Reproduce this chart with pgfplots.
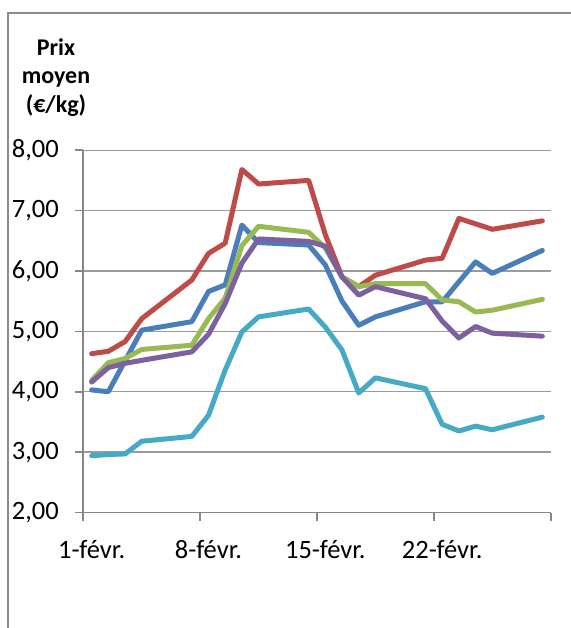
\documentclass[border=0pt]{standalone}
\usepackage{fontspec}
\setmainfont{Carlito}
\usepackage{pgfplots}
\pgfplotsset{compat=1.18}
\definecolor{cblue}{RGB}{74,126,187}
\definecolor{cred}{RGB}{190,75,72}
\definecolor{cgreen}{RGB}{152,185,84}
\definecolor{cpurple}{RGB}{125,96,160}
\definecolor{ccyan}{RGB}{70,170,197}
\definecolor{axiscol}{RGB}{134,134,134}
\definecolor{gridcol}{RGB}{155,155,155}
\definecolor{framecol}{RGB}{140,140,140}
\begin{document}
\begin{tikzpicture}
\begin{axis}[
  scale only axis, width=467.4bp, height=362.3bp,
  xmin=0.5, xmax=28.5, ymin=2, ymax=8,
  axis lines*=left,
  axis line style={draw=axiscol, line width=1.6bp},
  tick align=outside, major tick length=8bp,
  tick style={draw=axiscol, line width=1.6bp},
  xtick={0.5,7.5,14.5,21.5,28.5},
  xticklabels={1-févr.,8-févr.,15-févr.,22-févr.,{}},
  x tick label style={xshift=8.35bp, yshift=-16bp},
  y tick label style={xshift=-13bp},
  ytick={2,3,4,5,6,7,8},
  ymajorgrids, grid style={draw=gridcol, line width=1.3bp},
  /pgf/number format/.cd, fixed, fixed zerofill, precision=2, use comma, assume math mode=true,
  /pgfplots/.cd,
  tick label style={font=\fontsize{26.5bp}{31bp}\selectfont},
  every axis plot/.append style={line width=5bp, line join=round, line cap=round, mark=none},
]
\addplot[cblue] coordinates {(1,4.03)(2,4.00)(3,4.51)(4,5.02)(7,5.16)(8,5.66)(9,5.77)(10,6.76)(11,6.47)(14,6.43)(15,6.10)(16,5.50)(17,5.10)(18,5.24)(21,5.49)(22,5.49)(23,5.82)(24,6.15)(25,5.96)(28,6.34)};
\addplot[cred] coordinates {(1,4.63)(2,4.67)(3,4.83)(4,5.21)(7,5.85)(8,6.29)(9,6.46)(10,7.68)(11,7.44)(14,7.50)(15,6.60)(16,5.90)(17,5.74)(18,5.93)(21,6.18)(22,6.21)(23,6.87)(24,6.78)(25,6.69)(28,6.83)};
\addplot[cgreen] coordinates {(1,4.19)(2,4.48)(3,4.55)(4,4.70)(7,4.77)(8,5.21)(9,5.55)(10,6.42)(11,6.74)(14,6.64)(15,6.38)(16,5.90)(17,5.74)(18,5.79)(21,5.79)(22,5.52)(23,5.49)(24,5.32)(25,5.35)(28,5.53)};
\addplot[cpurple] coordinates {(1,4.16)(2,4.40)(3,4.47)(4,4.52)(7,4.66)(8,4.95)(9,5.46)(10,6.13)(11,6.53)(14,6.49)(15,6.41)(16,5.90)(17,5.60)(18,5.74)(21,5.54)(22,5.17)(23,4.89)(24,5.08)(25,4.97)(28,4.92)};
\addplot[ccyan] coordinates {(1,2.94)(2,2.96)(3,2.97)(4,3.18)(7,3.26)(8,3.61)(9,4.36)(10,4.99)(11,5.24)(14,5.37)(15,5.07)(16,4.69)(17,3.98)(18,4.23)(21,4.05)(22,3.46)(23,3.35)(24,3.43)(25,3.37)(28,3.58)};
\end{axis}
\node[anchor=base, font=\fontsize{24bp}{28bp}\selectfont\bfseries] at (-27.3bp,456.5bp) {Prix};
\node[anchor=base, font=\fontsize{24bp}{28bp}\selectfont\bfseries] at (-27.3bp,428.5bp) {moyen};
\node[anchor=base, font=\fontsize{24bp}{28bp}\selectfont\bfseries] at (-27.3bp,400bp) {(€/kg)};
\draw[framecol, line width=1.3bp] (-75.3bp,-115.5bp) -- (-75.3bp,499.5bp) -- (487.7bp,499.5bp);
\pgfresetboundingbox
\path[use as bounding box] (-83.3bp,-115.5bp) rectangle (487.7bp,512.5bp);
\end{tikzpicture}
\end{document}
